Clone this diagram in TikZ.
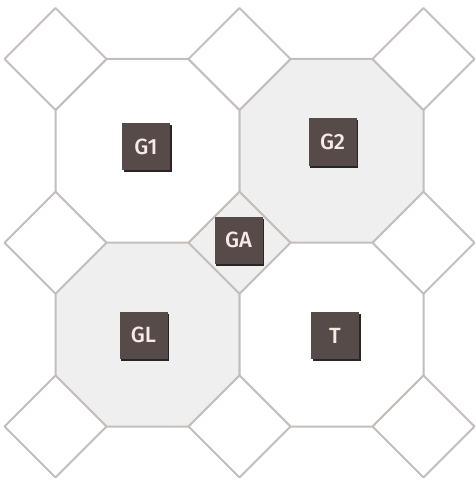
\documentclass[tikz,border=0pt]{standalone}
\usepackage{fontspec}
\newfontfamily\tagfont{Fira Sans Medium}
\usetikzlibrary{shadows}
\definecolor{linegray}{HTML}{C4BEBB}
\definecolor{fillgray}{HTML}{EFEFEF}
\definecolor{boxbrown}{HTML}{574B49}
\definecolor{labeltext}{HTML}{F8E9E2}
\begin{document}
\begin{tikzpicture}[x=1pt,y=-1pt,
  edge/.style={draw=linegray,line width=2pt,line join=round},
  tag/.style={fill=boxbrown,text=labeltext,minimum width=48pt,minimum height=47pt,
    inner sep=0pt,font=\tagfont\fontsize{22}{22}\selectfont,
    drop shadow={shadow xshift=1.5pt,shadow yshift=-2pt,fill=black!85,opacity=1}}]
\useasboundingbox (0,0) rectangle (475,481);
\fill[white] (0,0) rectangle (475,481);
% octagons
\foreach \X/\Y/\F in {147.5/151/white,331.5/151/fillgray,147.5/334.5/fillgray,331.5/334.5/white}{
  \path[edge,fill=\F] (\X-41,\Y-92) -- (\X+41,\Y-92) -- (\X+92,\Y-41) -- (\X+92,\Y+41)
    -- (\X+41,\Y+92) -- (\X-41,\Y+92) -- (\X-92,\Y+41) -- (\X-92,\Y-41) -- cycle;
}
% squares
\foreach \X/\Y/\F in {55.5/59/white,239.5/59/white,423.5/59/white,
                      55.5/242.75/white,239.5/242.75/fillgray,423.5/242.75/white,
                      55.5/426.5/white,239.5/426.5/white,423.5/426.5/white}{
  \path[edge,fill=\F] (\X-51,\Y) -- (\X,\Y-51) -- (\X+51,\Y) -- (\X,\Y+51) -- cycle;
}
% labels
\node[tag] (g1) at (146,146.5) {G1};
\node[tag] (g2) at (332.5,142) {G2};
\node[tag] (ga) at (238.5,240) {GA};
\node[tag] (gl) at (143.5,335) {GL};
\node[tag] (t) at (335,335.5) {T};
\end{tikzpicture}
\end{document}
